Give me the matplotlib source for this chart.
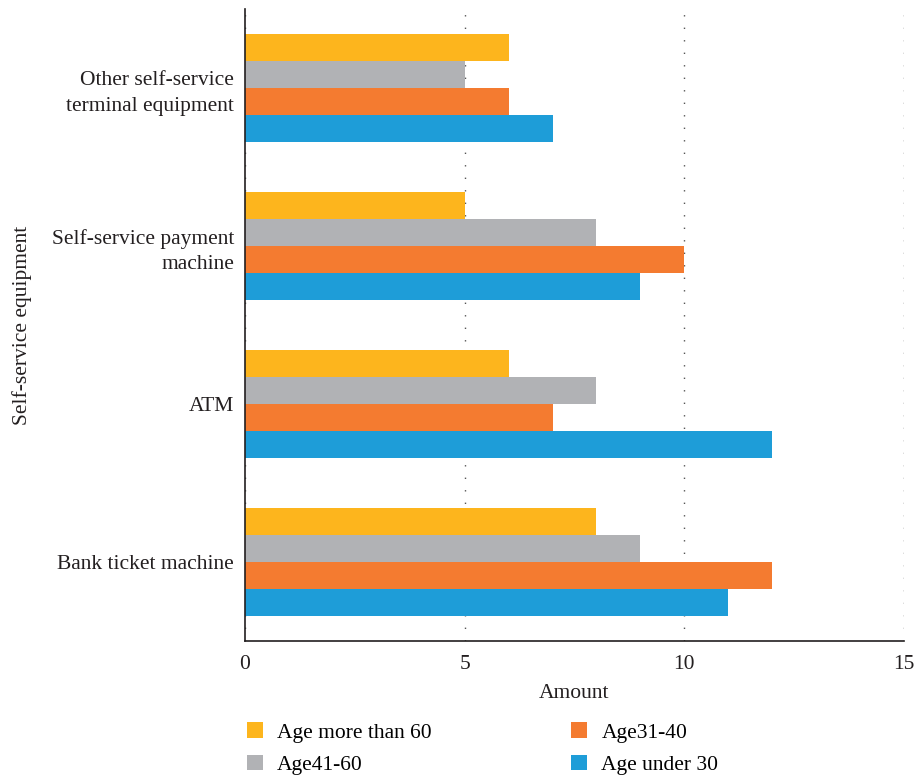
import matplotlib
matplotlib.use("Agg")
import matplotlib.pyplot as plt
import numpy as np

plt.rcParams['font.family'] = ['Liberation Serif', 'DejaVu Serif']

categories = ["Bank ticket machine", "ATM", "Self-service payment\nmachine",
              "Other self-service\nterminal equipment"]
series_names = ["Age more than 60", "Age41-60", "Age31-40", "Age under 30"]
age_over_60 = [8, 6, 5, 6]
age_41_60 = [9, 8, 8, 5]
age_31_40 = [12, 7, 10, 6]
age_under_30 = [11, 12, 9, 7]
colors = ["#FDB51D", "#B1B2B5", "#F47B30", "#1E9DD8"]

fs = 15.5
txt = "#231f20"

fig = plt.figure(figsize=(9.16, 7.75), dpi=100)
ax = fig.add_axes([0.2675, 0.1729, 0.7194, 0.8155])

y = np.arange(len(categories))
h = 0.172
series = [age_over_60, age_41_60, age_31_40, age_under_30]
offsets = [1.5 * h, 0.5 * h, -0.5 * h, -1.5 * h]
for vals, off, col, name in zip(series, offsets, colors, series_names):
    ax.barh(y + off, vals, height=h, color=col, label=name, zorder=2)

ax.set_xlim(0, 15)
ax.set_ylim(-0.5, 3.5)
ax.set_xticks([0, 5, 10, 15])
ax.set_yticks(y)
ax.set_yticklabels(categories, fontsize=fs, color=txt, linespacing=1.45)
ax.tick_params(axis='x', labelsize=fs, colors=txt, length=0, pad=10)
ax.tick_params(axis='y', length=0, pad=8)
ax.xaxis.grid(True, linestyle=(0, (1, 8)), color="#555555", linewidth=1, zorder=0)
ax.set_axisbelow(True)
for s in ["top", "right"]:
    ax.spines[s].set_visible(False)
for s in ["left", "bottom"]:
    ax.spines[s].set_color(txt)
    ax.spines[s].set_linewidth(1.2)

ax.set_xlabel("Amount", fontsize=fs, color=txt, labelpad=7)
ax.set_ylabel("Self-service equipment", fontsize=fs, color=txt, labelpad=14)

ax.legend(loc="upper left", bbox_to_anchor=(-0.027, -0.098), ncol=2, frameon=False,
          fontsize=fs, handlelength=0.75, handleheight=0.75, handletextpad=0.65,
          columnspacing=6.5, labelspacing=0.55)

fig.savefig("out.png", dpi=100)
